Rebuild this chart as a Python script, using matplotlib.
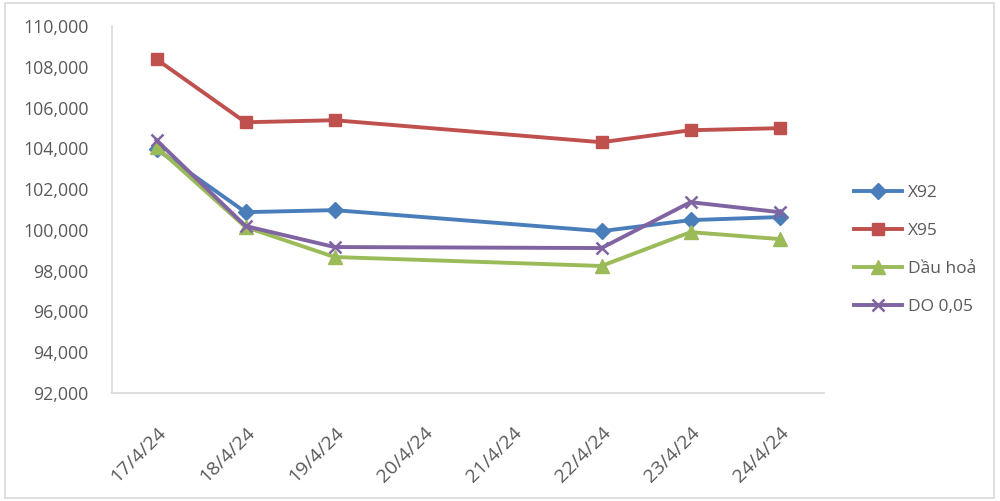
import numpy as np
import matplotlib
matplotlib.use("Agg")
import matplotlib.pyplot as plt
from matplotlib.patches import Rectangle

plt.rcParams['font.family'] = ['Open Sans', 'DejaVu Sans']

dates = ['17/4/24', '18/4/24', '19/4/24', '20/4/24', '21/4/24', '22/4/24', '23/4/24', '24/4/24']
nan = np.nan
x92 = [103960, 100870, 100970, nan, nan, 99940, 100480, 100630]
x95 = [108370, 105280, 105380, nan, nan, 104300, 104890, 104990]
dau_hoa = [104060, 100140, 98670, nan, nan, 98230, 99890, 99550]
do005 = [104400, 100190, 99160, nan, nan, 99110, 101360, 100870]

series = [
    ('X92', x92, '#4A7EBB', 'D', 8),
    ('X95', x95, '#C0504D', 's', 9),
    ('Dầu hoả', dau_hoa, '#9BBB59', '^', 10),
    ('DO 0,05', do005, '#8064A2', 'x', 9),
]

fig = plt.figure(figsize=(10, 5.01), dpi=100)
ax = fig.add_axes([0.112, 0.2156, 0.712, 0.7324])

xs = np.arange(len(dates))
for name, vals, color, marker, ms in series:
    v = np.array(vals, dtype=float)
    ok = np.isfinite(v)
    ax.plot(xs[ok], v[ok], color=color, lw=2.8, marker=marker, markersize=ms,
            markeredgewidth=1.8 if marker == 'x' else 1, label=name)

ax.set_xlim(-0.5, len(dates) - 0.5)
ax.set_ylim(92000, 110000)
ax.set_yticks(np.arange(92000, 110001, 2000))
ax.yaxis.set_major_formatter(matplotlib.ticker.FuncFormatter(lambda v, p: f'{int(v):,}'))
ax.set_xticks(xs)
ax.set_xticklabels(dates, rotation=45, ha='right', rotation_mode='anchor')

for s in ['top', 'right']:
    ax.spines[s].set_visible(False)
for s in ['left', 'bottom']:
    ax.spines[s].set_color('#D9D9D9')
    ax.spines[s].set_linewidth(1.2)
ax.tick_params(axis='y', length=0, labelsize=12.8, labelcolor='#595959', pad=17)
ax.tick_params(axis='x', length=0, labelsize=14, labelcolor='#595959', pad=22)

ax.legend(loc='center left', bbox_to_anchor=(1.02, 0.39), frameon=False,
          fontsize=12.5, labelspacing=1.25, handlelength=2.8, handletextpad=0.3,
          labelcolor='#595959')

fig.patches.append(Rectangle((0.005, 0.006), 0.989, 0.988, transform=fig.transFigure,
                             fill=False, edgecolor='#D9D9D9', lw=1.2))

fig.savefig('out.png', dpi=100)
